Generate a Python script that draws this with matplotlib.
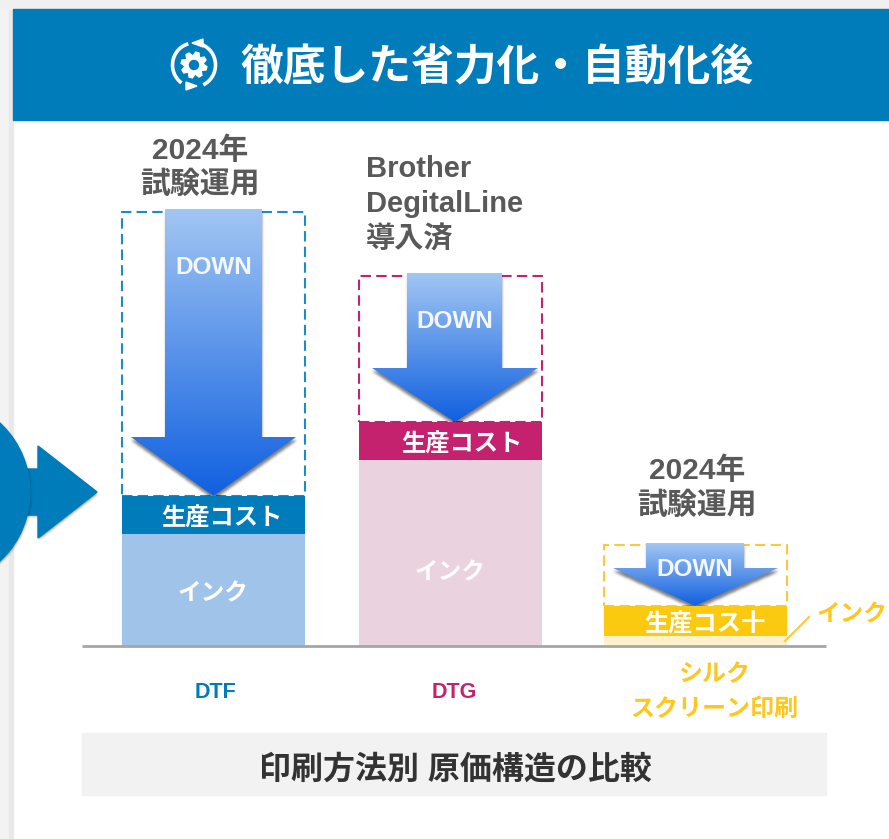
import numpy as np
import matplotlib.pyplot as plt
from matplotlib.colors import LinearSegmentedColormap
from matplotlib.patches import Arc, Circle, Polygon, Rectangle
from matplotlib.path import Path

plt.rcParams['font.family'] = ['Liberation Sans', 'Noto Sans CJK JP', 'DejaVu Sans']

methods = ['DTF', 'DTG', 'シルク\nスクリーン印刷']
ink = [112, 186, 10]
cost = [38, 38, 30]
reduction = [284, 146, 61]
cost_labels = ['生産コスト', '生産コスト', '生産コス十']

bar_left = [122, 359, 604]
bar_width = 183
ink_colors = ['#A0C4E9', '#EAD3DE', '#FFF2CC']
cost_colors = ['#007CBA', '#C4226E', '#FBC90F']
box_colors = ['#1C8CC8', '#C4226E', '#FBC93A']
method_colors = ['#007CBA', '#C4226E', '#FFC61E']

BLUE = '#007CBA'
GREY_TEXT = '#595959'

fig = plt.figure(figsize=(8.89, 8.39), dpi=100)
ax = fig.add_axes([0, 0, 1, 1])
ax.set_xlim(0, 889)
ax.set_ylim(-193, 646)     # 0 is the base line, one unit is one pixel
ax.axis('off')


# picture row to axis value
def py(row):
    return 646 - row


# text helper, CJK glyphs sit a little high with va='center'
def label(x, row, s, color, size, ha='center', shift=3):
    ax.text(x, py(row + shift), s, color=color, fontsize=size, fontweight='bold',
            ha=ha, va='center', zorder=6)


# soft drop shadow: blurred mask of a polygon, drawn as a black image
def soft_shadow(points, zorder, dy=3, alpha=0.5):
    pts = np.array(points, dtype=float)
    x0, x1 = max(pts[:, 0].min() - 14, -100), pts[:, 0].max() + 14
    y0, y1 = pts[:, 1].min() - 14, pts[:, 1].max() + 14
    xs = np.arange(x0, x1)
    ys = np.arange(y1, y0, -1)
    gx, gy = np.meshgrid(xs, ys)
    mask = Path(pts).contains_points(np.c_[gx.ravel(), gy.ravel()]).reshape(gx.shape).astype(float)
    kernel = np.exp(-np.linspace(-2, 2, 9) ** 2)
    kernel /= kernel.sum()
    mask = np.apply_along_axis(lambda r: np.convolve(r, kernel, 'same'), 0, mask)
    mask = np.apply_along_axis(lambda r: np.convolve(r, kernel, 'same'), 1, mask)
    rgba = np.zeros(mask.shape + (4,))
    rgba[..., 3] = mask * alpha
    ax.imshow(rgba, aspect='auto', zorder=zorder, interpolation='bilinear',
              extent=(x0, x1, y0 - dy, y1 - dy))


# Page background and header
ax.add_patch(Rectangle((0, py(839)), 9, 839, color='#F3F3F3', zorder=0))
ax.add_patch(Rectangle((9, py(839)), 4, 839, color='#E9E9E9', zorder=0))
ax.add_patch(Rectangle((0, py(9)), 889, 9, color='#F0F0F0', zorder=0))
ax.add_patch(Rectangle((13, py(120)), 876, 111, color=BLUE, zorder=1))
label(240, 65, '徹底した省力化・自動化後', 'white', 30.8, ha='left')

# Header icon
icon_x, icon_y = 194, py(65)
ax.add_patch(Arc((icon_x, icon_y), 43, 44, theta1=105, theta2=235, color='white', lw=2.6, zorder=3))
ax.add_patch(Arc((icon_x, icon_y), 43, 44, theta1=-65, theta2=70, color='white', lw=2.6, zorder=3))
ax.add_patch(Polygon([(192, py(43)), (203, py(39)), (203, py(47))], color='white', zorder=3))
ax.add_patch(Polygon([(197, py(86)), (186, py(82)), (186, py(90))], color='white', zorder=3))
tooth = np.arange(24)
angles = 2 * np.pi * tooth / 24 + np.pi / 24
radii = np.where(tooth % 3 == 0, 9, 13)
ax.add_patch(Polygon(np.c_[icon_x + radii * np.cos(angles), icon_y + radii * np.sin(angles)],
                     color='white', zorder=3))
ax.add_patch(Circle((icon_x, icon_y), 4.5, color=BLUE, zorder=4))

# Circle and arrow coming in from the left
entry_arrow = [(27, py(469)), (38, py(469)), (38, py(446)), (97, py(492)),
               (38, py(538)), (38, py(515)), (27, py(515))]
soft_shadow(entry_arrow, 1.5, dy=1)
ax.add_patch(Polygon(entry_arrow, color=BLUE, zorder=2))
theta = np.linspace(0, 2 * np.pi, 120)
soft_shadow(np.c_[-64 + 94 * np.cos(theta), py(492) + 94 * np.sin(theta)], 2.5, dy=1)
ax.add_patch(Circle((-64, py(492)), 94, color=BLUE, zorder=3))

# Stacked bars
for i in range(3):
    ax.bar(bar_left[i], ink[i], bar_width, align='edge', color=ink_colors[i], zorder=3)
    ax.bar(bar_left[i], cost[i], bar_width, bottom=ink[i], align='edge',
           color=cost_colors[i], zorder=3)
    top = ink[i] + cost[i]
    ax.add_patch(Rectangle((bar_left[i], top), bar_width, reduction[i], fill=False,
                           edgecolor=box_colors[i], lw=1.5, linestyle=(0, (5, 2.5)), zorder=2))

# Gradient DOWN arrows
arrow_cmap = LinearSegmentedColormap.from_list('down', ['#A2C6F3', '#1060E0'])
gradient = np.linspace(0, 1, 256).reshape(-1, 1)
shaft_x = [(165, 262), (407, 502), (646, 744)]
head_x = [(131, 296), (372, 538), (613, 778)]
tip_x = [213.5, 455, 695]
shaft_top = [209, 273, 543]
head_top = [437, 368, 568]
for i in range(3):
    tip = ink[i] + cost[i]
    outline = [(shaft_x[i][0], py(shaft_top[i])), (shaft_x[i][1], py(shaft_top[i])),
               (shaft_x[i][1], py(head_top[i])), (head_x[i][1], py(head_top[i])),
               (tip_x[i], tip), (head_x[i][0], py(head_top[i])),
               (shaft_x[i][0], py(head_top[i]))]
    soft_shadow(outline, 2.5)
    img = ax.imshow(gradient, cmap=arrow_cmap, aspect='auto', zorder=4,
                    extent=(head_x[i][0], head_x[i][1], tip, py(shaft_top[i])))
    img.set_clip_path(Polygon(outline, closed=True, transform=ax.transData))
ax.set_xlim(0, 889)
ax.set_ylim(-193, 646)

# Labels inside the bars
for x, row, s in zip([222, 462, 705], [516, 442, 622], cost_labels):
    label(x, row, s, 'white', 17.5)
for x, row in zip([213, 450], [591, 570]):
    label(x, row, 'インク', 'white', 17)
for x, row in zip([214, 455, 695], [265, 320, 568]):
    label(x, row, 'DOWN', '#F4F8FE', 17.5, shift=2)

# Notes above the bars
for x, row, s in [(200, 148, '2024年'), (200, 182, '試験運用'),
                  (697, 468, '2024年'), (697, 503, '試験運用')]:
    label(x, row, s, GREY_TEXT, 21.5)
for row, s in [(166, 'Brother'), (201, 'DegitalLine'), (237, '導入済')]:
    label(366, row, s, GREY_TEXT, 21, ha='left')

# Ink call-out of the small bar
ax.plot([785, 809], [py(641), py(617)], color='#FBC93A', lw=1.5, zorder=5)
label(852, 612, 'インク', '#FFC61E', 17)

# Base line and method names
ax.plot([82, 826], [0, 0], color='#A6A6A6', lw=2, zorder=5, solid_capstyle='butt')
for x, s, color in zip([216, 454], methods[:2], method_colors):
    label(x, 692, s, color, 15.5, shift=1)
for row, s in zip([672, 706], methods[2].split('\n')):
    label(714, row, s, method_colors[2], 17.3)

# Footer
ax.add_patch(Rectangle((82, py(795)), 744, 62, color='#F2F2F2', zorder=1))
label(455, 767, '印刷方法別 原価構造の比較', '#333333', 23)

fig.savefig('out.png', dpi=100)
